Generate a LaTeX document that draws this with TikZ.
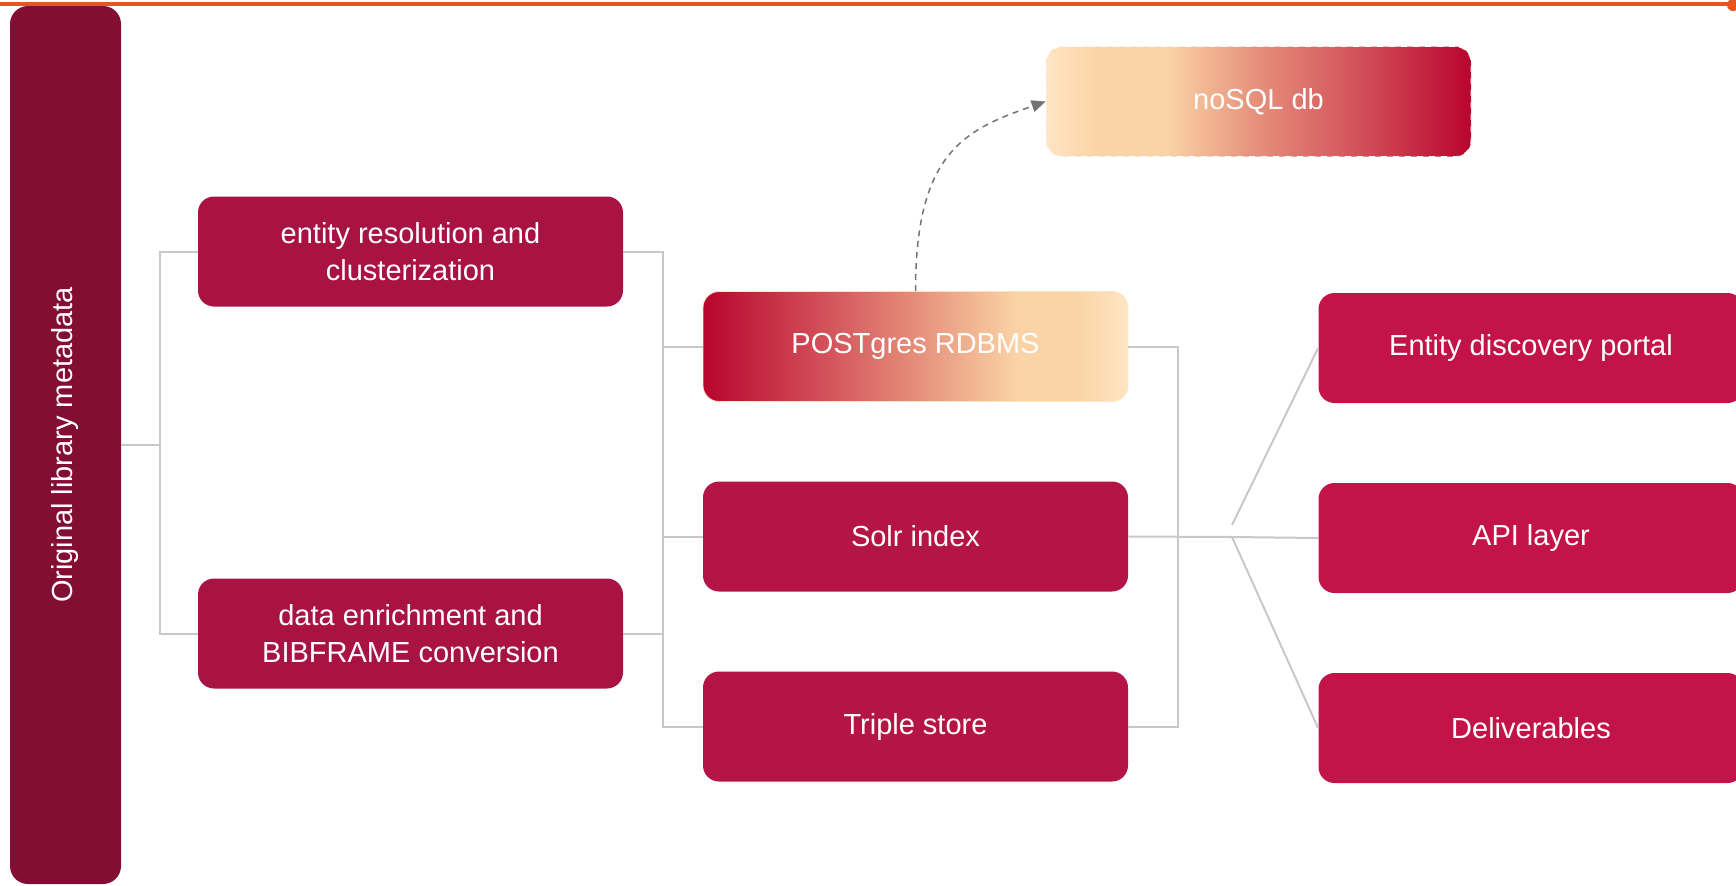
\documentclass[tikz,border=0pt]{standalone}
\usepackage{fontspec}
\setmainfont{Liberation Sans}
\usepackage{xcolor}
\usepackage{tikz}
\usetikzlibrary{arrows.meta}
\usetikzlibrary{calc}
\usetikzlibrary{positioning}

\definecolor{orangeline}{RGB}{232,84,30}
\definecolor{metared}{RGB}{132,13,51}
\definecolor{procred}{RGB}{168,19,67}
\definecolor{storered}{RGB}{180,20,70}
\definecolor{outred}{RGB}{195,20,74}
\definecolor{wiregray}{RGB}{200,200,200}
\definecolor{gRed}{RGB}{184,5,46}
\definecolor{gRose}{RGB}{212,85,92}
\definecolor{gSalmon}{RGB}{229,142,122}
\definecolor{gPeach}{RGB}{250,212,166}
\definecolor{gCream}{RGB}{255,229,196}

\pgfdeclarehorizontalshading{redtopeach}{100bp}{color(0bp)=(gRed); color(25bp)=(gRed); color(40bp)=(gRose); color(50bp)=(gSalmon); color(62bp)=(gPeach); color(69bp)=(gPeach); color(75bp)=(gCream); color(100bp)=(gCream)}
\pgfdeclarehorizontalshading{peachtored}{100bp}{color(0bp)=(gCream); color(25bp)=(gCream); color(31bp)=(gPeach); color(39bp)=(gPeach); color(50bp)=(gSalmon); color(61bp)=(gRose); color(75bp)=(gRed); color(100bp)=(gRed)}

\begin{document}
\begin{tikzpicture}[x=0.5pt,y=-0.5pt,>={Triangle[length=7pt,width=6pt]},node distance=95pt]
	\tikzstyle{blk}=[rounded corners=8pt, minimum width=212.5pt, minimum height=55pt, text=white, align=center, inner sep=0pt, font=\fontsize{14.5}{18.3}\selectfont]
	\tikzstyle{wire}=[draw=wiregray, line width=1pt]
	\tikzstyle{dasharrow}=[->, draw=black!55, line width=0.75pt, dash pattern=on 3pt off 2.5pt]
	\useasboundingbox (0,0) rectangle (1736,885);

	\draw[orangeline, line width=2pt] (0,3.6) -- (1736,3.6);
	\fill[orangeline] (1733,5) circle (3pt);

	\node[blk, fill=metared, minimum width=55.5pt, minimum height=439pt, rounded corners=9pt] (meta) at (65.5,445) {\rotatebox{90}{Original library metadata}};

	\node[blk, fill=procred] (entity) at (410.5,251.5) {entity resolution and\\clusterization};
	\node[blk, fill=procred] (enrich) [below of=entity, node distance=191pt] {data enrichment and\\BIBFRAME conversion};

	\node[blk, shading=redtopeach, draw=gCream] (pg) at (915.5,346.5) {POSTgres RDBMS};
	\node[blk, fill=storered] (solr) [below of=pg] {Solr index};
	\node[blk, fill=storered] (triple) [below of=solr] {Triple store};

	\node[blk, shading=peachtored, draw=white, dashed] (nosql) at (1258.5,101.5) {noSQL db};

	\node[blk, fill=outred] (portal) at (1531,348) {Entity discovery portal};
	\node[blk, fill=outred] (api) [below of=portal] {API layer};
	\node[blk, fill=outred] (deliv) [below of=api] {Deliverables};

	\foreach \n in {entity,enrich}
		\draw[wire] (meta.east) -- ++(39,0) |- (\n.west);
	\foreach \n in {pg,solr,triple} {
		\draw[wire] (entity.east) -- ++(40,0) |- (\n.west);
		\draw[wire] (enrich.east) -- ++(40,0) |- (\n.west);
	}
	\draw[wire] (pg.east) -- ++(50,0) |- (triple.east);
	\coordinate (fan) at (1232,537);
	\draw[wire] (solr.east) -- (fan);
	\draw[wire] ($(fan)+(0,-12)$) -- (portal.west);
	\foreach \n in {api,deliv}
		\draw[wire] (fan) -- (\n.west);

	\draw[dasharrow] (pg.north) .. controls +(0,-140) and +(-80,28) .. (nosql.west);
\end{tikzpicture}
\end{document}
